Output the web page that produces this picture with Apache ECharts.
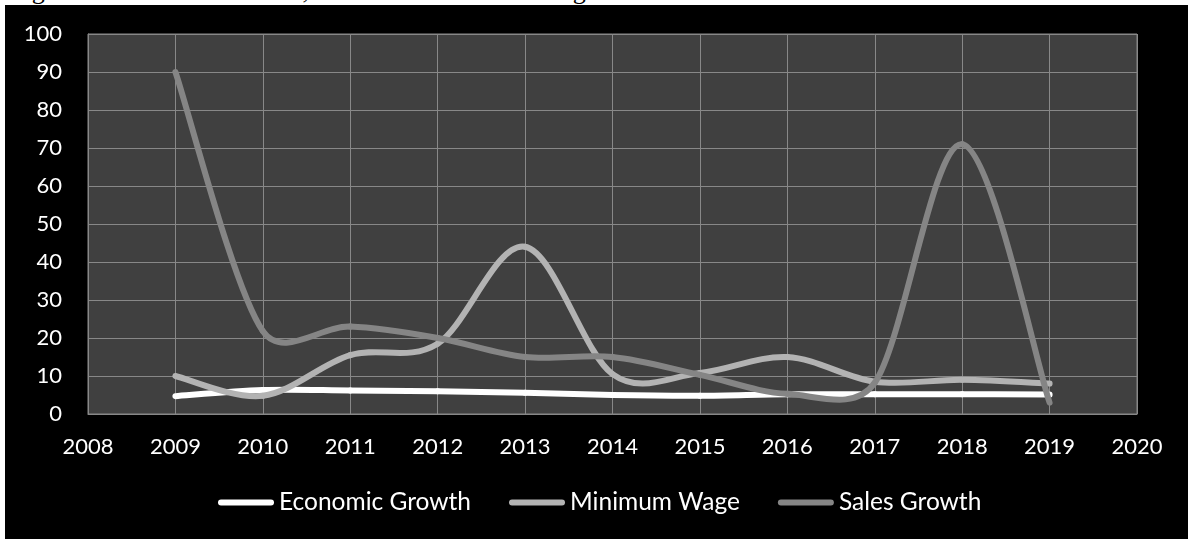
<!DOCTYPE html>
<html>
<head>
<meta charset="utf-8">
<script src="https://cdn.jsdelivr.net/npm/echarts@6/dist/echarts.min.js"></script>
<style>
  html, body { margin: 0; padding: 0; background: #ffffff; width: 1188px; height: 539px; overflow: hidden; }
  #caption { position: absolute; left: 0; top: 0; width: 1188px; height: 5px; overflow: hidden; }
  #caption span { position: absolute; left: 10px; top: -22px; font: 26px "Liberation Serif", "DejaVu Serif", serif; line-height: 26px; color: #000; white-space: nowrap; }
  #chart { position: absolute; left: 5px; top: 5px; width: 1183px; height: 534px; background: #000000; }
</style>
</head>
<body>
<div id="caption"><span>Figure 1: Economic Growth, Provincial Minimum Wage and Sales Growth</span></div>
<div id="chart"></div>
<script>
// Yearly values, 2009–2019
const years = [2009, 2010, 2011, 2012, 2013, 2014, 2015, 2016, 2017, 2018, 2019];
const economicGrowth = [4.7, 6.3, 6.2, 6.0, 5.6, 5.0, 4.8, 5.2, 5.2, 5.2, 5.1];
const minimumWage    = [10, 4.8, 15.5, 18.5, 44, 10.5, 10.8, 15, 8.5, 9, 8];
const salesGrowth    = [90, 21.8, 23, 20, 15, 15, 10.3, 5.3, 8.2, 71, 3];
const seriesNames = ['Economic Growth', 'Minimum Wage', 'Sales Growth'];
const seriesColors = ['#ffffff', '#b3b3b3', '#858585'];

const pair = (vals) => years.map((y, i) => [y, vals[i]]);
const capsule = 'path://M3,0 H53 A3,3 0 0 1 53,6 H3 A3,3 0 0 1 3,0 Z';
const axisFont = { color: '#ffffff', fontFamily: 'Lato', fontSize: 22 };
const legendFont = { color: '#ffffff', fontFamily: 'Lato', fontSize: 24.5 };
const gridColor = '#888888';

// Smoothed line: each segment is a cubic Bezier whose tangents follow the
// neighbouring points (Catmull-Rom style), with the control arms limited
// relative to the segment length.
const TENSION = 1 / 6;
const ARM_LIMIT = 0.4;

function smoothRenderer(vals, color) {
  const last = vals.length - 1;
  return function (params, api) {
    const i = params.dataIndex;
    if (i >= last) return null;
    const P = (k) => {
      const j = Math.max(0, Math.min(last, k));
      return api.coord([years[j], vals[j]]);
    };
    const p0 = P(i - 1), p1 = P(i), p2 = P(i + 1), p3 = P(i + 2);
    const seg = Math.hypot(p2[0] - p1[0], p2[1] - p1[1]);
    const arm = (a, b) => {
      let dx = (b[0] - a[0]) * TENSION, dy = (b[1] - a[1]) * TENSION;
      const len = Math.hypot(dx, dy), max = seg * ARM_LIMIT;
      if (len > max && len > 0) { dx *= max / len; dy *= max / len; }
      return [dx, dy];
    };
    const t1 = arm(p0, p2), t2 = arm(p1, p3);
    return {
      type: 'bezierCurve',
      shape: {
        x1: p1[0], y1: p1[1], x2: p2[0], y2: p2[1],
        cpx1: p1[0] + t1[0], cpy1: p1[1] + t1[1],
        cpx2: p2[0] - t2[0], cpy2: p2[1] - t2[1]
      },
      style: { stroke: color, fill: null, lineWidth: 6, lineCap: 'round', lineJoin: 'round' },
      silent: true
    };
  };
}

function lineSeries(name, vals, color) {
  return {
    name, type: 'custom', data: pair(vals),
    encode: { x: 0, y: 1 },
    renderItem: smoothRenderer(vals, color),
    itemStyle: { color }
  };
}

const chart = echarts.init(document.getElementById('chart'), null, { renderer: 'canvas' });

chart.setOption({
  backgroundColor: '#000000',
  animation: false,
  color: seriesColors,
  grid: {
    left: 83, right: 51, top: 29, bottom: 125,
    show: true, backgroundColor: '#404040', borderColor: gridColor, borderWidth: 1
  },
  xAxis: {
    type: 'value', min: 2008, max: 2020, interval: 1,
    axisLine: { show: true, lineStyle: { color: gridColor } },
    axisTick: { show: false },
    splitLine: { show: true, lineStyle: { color: gridColor, width: 1 } },
    axisLabel: Object.assign({ margin: 22, formatter: (v) => String(v) }, axisFont)
  },
  yAxis: {
    type: 'value', min: 0, max: 100, interval: 10,
    axisLine: { show: true, lineStyle: { color: gridColor } },
    axisTick: { show: false },
    splitLine: { show: true, lineStyle: { color: gridColor, width: 1 } },
    axisLabel: Object.assign({ margin: 26 }, axisFont)
  },
  legend: {
    left: 208, top: 480, itemGap: 38, itemWidth: 56, itemHeight: 6,
    icon: capsule,
    textStyle: legendFont,
    data: seriesNames
  },
  series: [
    lineSeries(seriesNames[0], economicGrowth, seriesColors[0]),
    lineSeries(seriesNames[1], minimumWage, seriesColors[1]),
    lineSeries(seriesNames[2], salesGrowth, seriesColors[2])
  ]
});
</script>
</body>
</html>
